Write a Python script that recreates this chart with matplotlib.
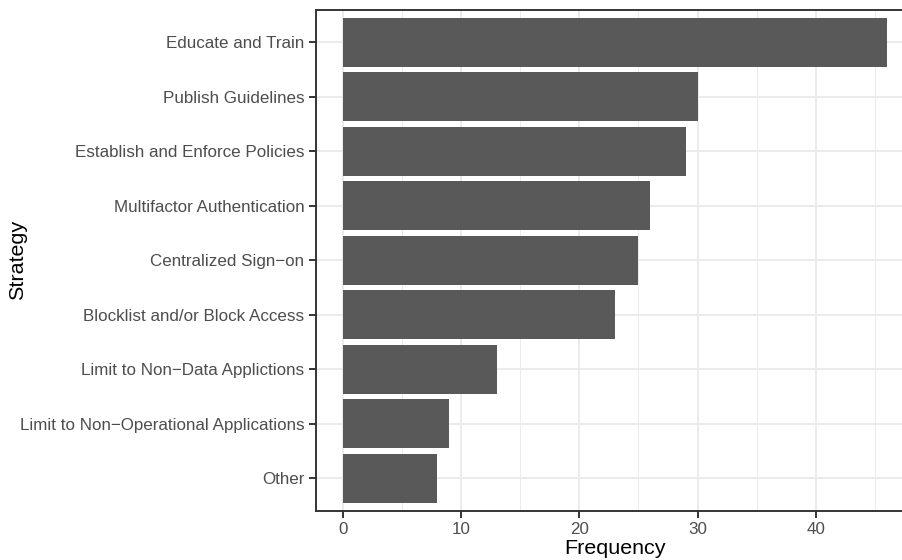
import numpy as np
import matplotlib.pyplot as plt
from matplotlib.ticker import MultipleLocator

# strategies, top to bottom as drawn
strategies = ["Educate and Train", "Publish Guidelines", "Establish and Enforce Policies",
              "Multifactor Authentication", "Centralized Sign\u2212on",
              "Blocklist and/or Block Access", "Limit to Non\u2212Data Applictions",
              "Limit to Non\u2212Operational Applications", "Other"]
frequency = [46, 30, 29, 26, 25, 23, 13, 9, 8]

plt.rcParams['font.family'] = ['Liberation Sans', 'DejaVu Sans']

dpi = 130
fig = plt.figure(figsize=(902 / dpi, 560 / dpi), dpi=dpi)
# panel box in pixels: left 315.7, top 9.5, bottom 511, right runs past the edge (~914)
W, H = 902, 560
left, right = 315.7, 914
ax = fig.add_axes([left / W, 1 - 511 / H, (right - left) / W, (511 - 9.5) / H])

n = len(strategies)
ypos = np.arange(n)[::-1] + 1
ax.barh(ypos, frequency, height=0.9, color="#595959", zorder=2)

ax.set_xlim(-0.05 * max(frequency), max(frequency) * 1.05)
ax.set_ylim(0.4, n + 0.6)
ax.set_yticks(ypos)
ax.set_yticklabels(strategies)
ax.xaxis.set_major_locator(MultipleLocator(10))
ax.xaxis.set_minor_locator(MultipleLocator(5))

grid_lw = 1.07
ax.grid(which="major", color="#EBEBEB", linewidth=grid_lw, zorder=0)
ax.grid(which="minor", axis="x", color="#EBEBEB", linewidth=grid_lw / 2, zorder=0)
ax.set_axisbelow(True)

for s in ax.spines.values():
    s.set_color("#333333")
    s.set_linewidth(1.07)
# right border falls outside the picture
ax.spines['right'].set_visible(False)

ax.tick_params(axis="both", which="major", length=3.8, width=1.07, color="#333333",
               labelcolor="#4D4D4D", labelsize=9.45, pad=2.5)
ax.tick_params(axis="x", which="minor", length=0)

ax.set_xlabel("Frequency", fontsize=11.9, color="black", labelpad=1)
ax.set_ylabel("Strategy", fontsize=11.9, color="black", va="center")
ax.yaxis.set_label_coords((18 - left) / (right - left), 0.5)

fig.savefig("out.png", dpi=dpi, facecolor="white")
